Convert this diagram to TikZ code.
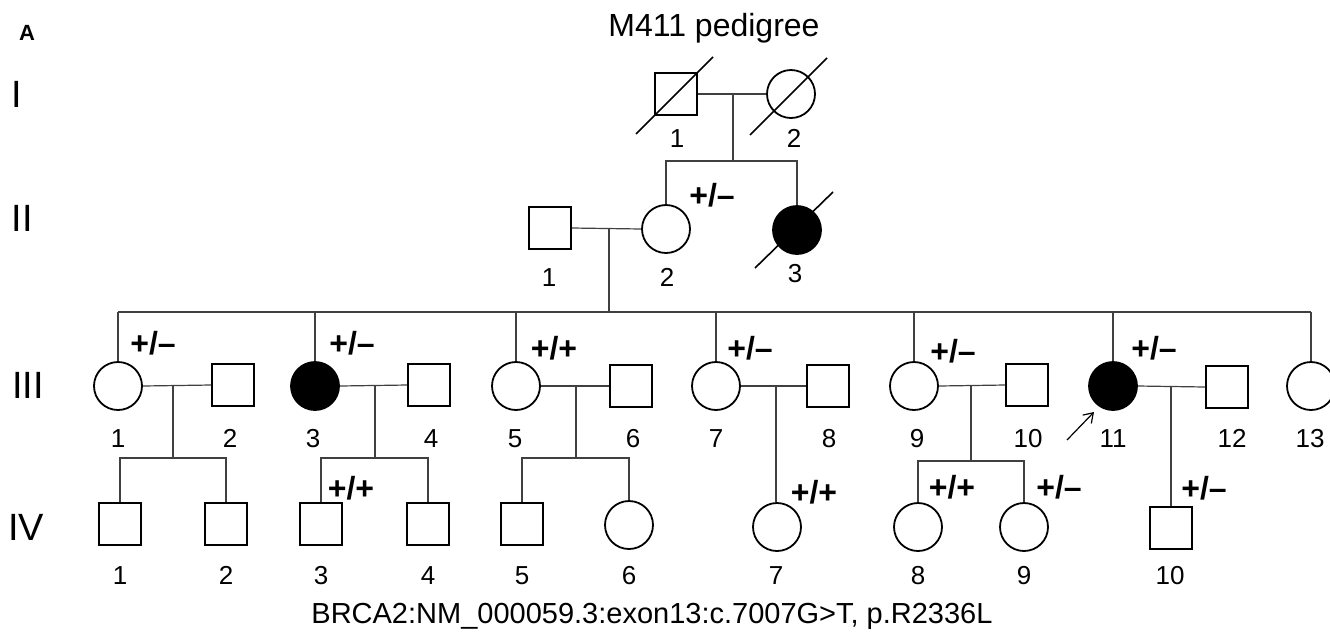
\documentclass[tikz,border=0pt]{standalone}
\usepackage{fontspec}
\setmainfont{Liberation Sans}
\usetikzlibrary{arrows.meta}

\begin{document}
\begin{tikzpicture}[x=1pt,y=-1pt,
  male/.style={draw, line width=1.8pt, rectangle, minimum size=42pt, inner sep=0pt},
  female/.style={draw, line width=1.8pt, circle, minimum size=48pt, inner sep=0pt},
  affected/.style={fill=black},
  link/.style={draw=black!75, line width=1.2pt},
  deceased/.style={line width=1.6pt},
  num/.style={font=\fontsize{26}{26}\selectfont, inner sep=0pt, text height=18.6pt, text depth=0pt},
  geno/.style={font=\bfseries\fontsize{32}{32}\selectfont, inner sep=0pt},
  gen/.style={font=\fontsize{38}{38}\selectfont, inner sep=0pt, text height=27.2pt, text depth=0pt},
]
\useasboundingbox (0,0) rectangle (1330,633);

% headings
\node[font=\bfseries\fontsize{22}{22}\selectfont, inner sep=0pt] (panel) at (27,33) {A};
\node[font=\fontsize{32}{32}\selectfont, inner sep=0pt] (title) at (714,28) {M411 pedigree};
\node[gen] (gI)   at (17,94)  {I};
\node[gen] (gII)  at (22,218) {II};
\node[gen] (gIII) at (28,385) {III};
\node[gen] (gIV)  at (26,527) {IV};

% generation I
\node[male]   (I1) at (676,94) {};
\node[female] (I2) at (791,94) {};
\draw[deceased] ([shift={(-40,40)}]I1.center) -- ([shift={(37,-37)}]I1.center);
\draw[deceased] ([shift={(-41,41)}]I2.center) -- ([shift={(36,-36)}]I2.center);
\node[num] (lI1) at (677,138) {1};
\node[num] (lI2) at (794,138) {2};

% generation II
\node[male]             (II1) at (550,228) {};
\node[female]           (II2) at (666,229) {};
\node[female, affected] (II3) at (797,230) {};
\draw[deceased] ([shift={(-42,38)}]II3.center) -- ([shift={(36,-38)}]II3.center);
\node[num] (lII1) at (549,277) {1};
\node[num] (lII2) at (667,277) {2};
\node[num] (lII3) at (795,273) {3};
\node[geno] (gtII2) at (712,195) {+/–};

% generation I mating and sibship
\coordinate (mI) at (733,94);
\coordinate (sI) at (733,161);
\draw[link] (I1.east) -- (I2.west);
\draw[link] (mI) -- (sI);
\draw[link] (II2.north) -- (II2.north |- sI) -- (II3.north |- sI) -- (II3.north);

% generation III
\node[female]           (III1)  at (118,386)  {};
\node[male]             (III2)  at (233,385)  {};
\node[female, affected] (III3)  at (315,386)  {};
\node[male]             (III4)  at (429,385)  {};
\node[female]           (III5)  at (516,386)  {};
\node[male]             (III6)  at (631,386)  {};
\node[female]           (III7)  at (716,386)  {};
\node[male]             (III8)  at (828,386)  {};
\node[female]           (III9)  at (914,386)  {};
\node[male]             (III10) at (1027,385) {};
\node[female, affected] (III11) at (1113,386) {};
\node[male]             (III12) at (1227,387) {};
\node[female]           (III13) at (1311,386) {};

\foreach \n/\x/\t in {1/118/1, 2/230/2, 3/313/3, 4/431/4, 5/515/5, 6/633/6, 7/716/7,
                      8/829/8, 9/917/9, 10/1028/10, 11/1113/11, 12/1232/12, 13/1310/13}
  \node[num] (lIII\n) at (\x,438) {\t};

\node[geno] (gtIII1)  at (153,343)  {+/–};
\node[geno] (gtIII3)  at (352,343)  {+/–};
\node[geno] (gtIII5)  at (554,348)  {+/+};
\node[geno] (gtIII7)  at (750,348)  {+/–};
\node[geno] (gtIII9)  at (953,351)  {+/–};
\node[geno] (gtIII11) at (1154,348) {+/–};

% proband arrow
\coordinate (pa) at ([shift={(-46,54)}]III11.center);
\coordinate (pb) at ([shift={(-19,26)}]III11.center);
\draw[line width=1.2pt, -{Straight Barb[length=9pt,width=12pt]}] (pa) -- (pb);

% generation II mating and sibship
\coordinate (mII) at (609,228);
\coordinate (sII) at (609,312);
\draw[link] (II1.east) -- (II2.west);
\draw[link] (mII) -- (sII);
\draw[link] (III1.north |- sII) -- (III13.north |- sII);
\foreach \c in {III1,III3,III5,III7,III9,III11,III13}
  \draw[link] (\c.north) -- (\c.north |- sII);

% generation IV
\node[male]   (IV1)  at (120,524)  {};
\node[male]   (IV2)  at (226,524)  {};
\node[male]   (IV3)  at (321,524)  {};
\node[male]   (IV4)  at (428,524)  {};
\node[male]   (IV5)  at (522,524)  {};
\node[female] (IV6)  at (629,525)  {};
\node[female] (IV7)  at (777,527)  {};
\node[female] (IV8)  at (918,527)  {};
\node[female] (IV9)  at (1024,527) {};
\node[male]   (IV10) at (1171,528) {};

\foreach \n/\x in {1/120, 2/226, 3/321, 4/428, 5/522, 6/629, 7/776, 8/918, 9/1024, 10/1170}
  \node[num] (lIV\n) at (\x,575) {\n};

\node[geno] (gtIV3)  at (351,488)  {+/+};
\node[geno] (gtIV7)  at (814,492)  {+/+};
\node[geno] (gtIV8)  at (952,487)  {+/+};
\node[geno] (gtIV9)  at (1059,487) {+/–};
\node[geno] (gtIV10) at (1204,488) {+/–};

% generation III matings and sibships
\coordinate (mA) at (173,386); \coordinate (sA) at (173,458);
\coordinate (mB) at (375,385); \coordinate (sB) at (375,458);
\coordinate (mC) at (576,386); \coordinate (sC) at (576,458);
\coordinate (mD) at (776,386);
\coordinate (mE) at (971,385); \coordinate (sE) at (971,461);
\coordinate (mF) at (1171,387);

\draw[link] (III1.east) -- (III2.west);
\draw[link] (mA) -- (sA);
\draw[link] (IV1.north) -- (IV1.north |- sA) -- (IV2.north |- sA) -- (IV2.north);

\draw[link] (III3.east) -- (III4.west);
\draw[link] (mB) -- (sB);
\draw[link] (IV3.north) -- (IV3.north |- sB) -- (IV4.north |- sB) -- (IV4.north);

\draw[link] (III5.east) -- (III6.west);
\draw[link] (mC) -- (sC);
\draw[link] (IV5.north) -- (IV5.north |- sC) -- (IV6.north |- sC) -- (IV6.north);

\draw[link] (III7.east) -- (III8.west);
\draw[link] (mD) -- (mD |- IV7.north);

\draw[link] (III9.east) -- (III10.west);
\draw[link] (mE) -- (sE);
\draw[link] (IV8.north) -- (IV8.north |- sE) -- (IV9.north |- sE) -- (IV9.north);

\draw[link] (III11.east) -- (III12.west);
\draw[link] (mF) -- (mF |- IV10.north);

% variant
\node[font=\fontsize{29}{29}\selectfont, inner sep=0pt] (variant) at (652,616)
  {BRCA2:NM\_000059.3:exon13:c.7007G>T, p.R2336L};

\end{tikzpicture}
\end{document}
